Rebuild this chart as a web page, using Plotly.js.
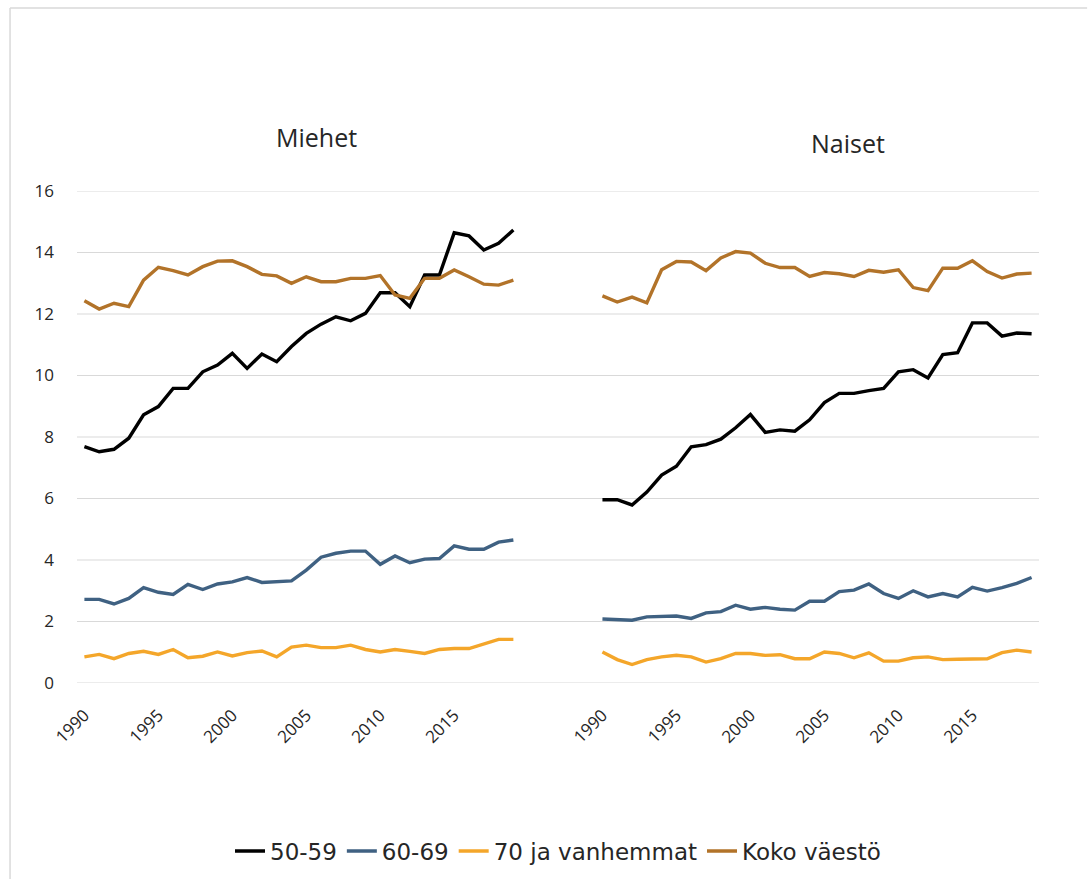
<!DOCTYPE html>
<html>
<head>
<meta charset="utf-8">
<script src="https://cdn.plot.ly/plotly-3.0.1.min.js"></script>
<style>html,body{margin:0;padding:0;background:#fff;}#chart{width:1091px;height:879px;}</style>
</head>
<body>
<div id="chart"></div>
<script>
// Years (same for both panels)
const years = [1990,1991,1992,1993,1994,1995,1996,1997,1998,1999,2000,2001,2002,2003,2004,2005,2006,2007,2008,2009,2010,2011,2012,2013,2014,2015,2016,2017,2018,2019];
const xTickVals = [1990,1995,2000,2005,2010,2015];
const yTickVals = [0,2,4,6,8,10,12,14,16];
const seriesNames = ["50-59","60-69","70 ja vanhemmat","Koko väestö"];
const panelTitles = ["Miehet","Naiset"];

// Miehet (men)
const men_50_59 = [7.69,7.52,7.60,7.96,8.72,8.99,9.58,9.58,10.12,10.34,10.72,10.23,10.70,10.45,10.94,11.37,11.67,11.91,11.78,12.02,12.69,12.69,12.24,13.27,13.27,14.64,14.54,14.08,14.30,14.73];
const men_60_69 = [2.72,2.72,2.57,2.75,3.10,2.95,2.88,3.21,3.04,3.22,3.29,3.43,3.27,3.29,3.32,3.67,4.09,4.22,4.29,4.29,3.86,4.13,3.91,4.03,4.05,4.46,4.35,4.35,4.58,4.65];
const men_70plus = [0.85,0.93,0.79,0.96,1.03,0.93,1.09,0.82,0.87,1.01,0.88,0.99,1.04,0.85,1.17,1.23,1.15,1.15,1.23,1.09,1.01,1.09,1.03,0.96,1.09,1.12,1.12,1.28,1.42,1.42];
const men_all = [12.43,12.16,12.35,12.24,13.10,13.52,13.41,13.27,13.54,13.72,13.73,13.54,13.29,13.24,13.00,13.21,13.05,13.05,13.16,13.16,13.25,12.62,12.51,13.16,13.16,13.43,13.21,12.97,12.94,13.10];

// Naiset (women)
const women_50_59 = [5.96,5.96,5.79,6.21,6.76,7.05,7.68,7.75,7.93,8.30,8.73,8.15,8.23,8.19,8.56,9.12,9.42,9.42,9.51,9.58,10.12,10.19,9.92,10.68,10.74,11.71,11.71,11.28,11.38,11.36];
const women_60_69 = [2.08,2.07,2.04,2.15,2.17,2.18,2.10,2.28,2.32,2.53,2.40,2.46,2.40,2.37,2.66,2.66,2.97,3.02,3.22,2.91,2.75,3.00,2.80,2.91,2.80,3.11,2.99,3.10,3.24,3.43];
const women_70plus = [1.01,0.76,0.60,0.76,0.85,0.90,0.85,0.68,0.79,0.96,0.96,0.90,0.92,0.79,0.79,1.01,0.96,0.82,0.98,0.71,0.71,0.82,0.85,0.76,0.77,0.79,0.79,0.99,1.07,1.01];
const women_all = [12.59,12.39,12.55,12.36,13.44,13.71,13.69,13.41,13.82,14.03,13.98,13.65,13.51,13.51,13.22,13.35,13.31,13.22,13.42,13.36,13.44,12.86,12.76,13.49,13.49,13.73,13.38,13.17,13.30,13.33];

const colors = ["#000000","#3f6182","#f4a62a","#b27329"];
const menData = [men_50_59, men_60_69, men_70plus, men_all];
const womenData = [women_50_59, women_60_69, women_70plus, women_all];

const traces = [];
seriesNames.forEach((name, i) => {
  traces.push({x: years, y: menData[i], xaxis: 'x', yaxis: 'y', type: 'scatter', mode: 'lines',
    name: name, legendgroup: name, showlegend: true,
    line: {color: colors[i], width: 3.4}, hoverinfo: 'x+y+name'});
});
seriesNames.forEach((name, i) => {
  traces.push({x: years, y: womenData[i], xaxis: 'x2', yaxis: 'y', type: 'scatter', mode: 'lines',
    name: name, legendgroup: name, showlegend: false,
    line: {color: colors[i], width: 3.4}, hoverinfo: 'x+y+name'});
});

const FONT = "'Open Sans', 'Noto Sans', sans-serif";
const gridShapes = yTickVals.map(v => ({
  type: 'line', xref: 'paper', yref: 'y', x0: 0, x1: 1, y0: v, y1: v,
  line: {color: '#d9d9d9', width: 1.2}, layer: 'below'
}));
// outer chart border (top and left edges)
const borderShapes = [
  {type: 'line', xref: 'paper', yref: 'paper', x0: -0.0696, x1: 1.05, y0: 1.372, y1: 1.372, line: {color: '#d9d9d9', width: 1.5}},
  {type: 'line', xref: 'paper', yref: 'paper', x0: -0.0696, x1: -0.0696, y0: 1.372, y1: -0.41, line: {color: '#d9d9d9', width: 1.5}}
];

const xCommon = {
  range: [1989.5, 2019.5], tickvals: xTickVals, tickangle: -45,
  showgrid: false, zeroline: false, showline: false, ticks: '',
  ticklabelstandoff: 18, automargin: false,
  tickfont: {family: FONT, size: 17, color: '#262626'}, fixedrange: true
};

const layout = {
  width: 1091, height: 879,
  margin: {l: 77, r: 52, t: 191, b: 196, autoexpand: false},
  paper_bgcolor: '#ffffff', plot_bgcolor: 'rgba(0,0,0,0)',
  font: {family: FONT, color: '#262626'},
  xaxis: Object.assign({}, xCommon, {domain: [0, 0.4613], anchor: 'y'}),
  xaxis2: Object.assign({}, xCommon, {domain: [0.5385, 1], anchor: 'y'}),
  yaxis: {
    range: [0, 16], tickvals: yTickVals, showgrid: false, zeroline: false, showline: false,
    ticks: '', ticklabelstandoff: 22, automargin: false,
    tickfont: {family: FONT, size: 17, color: '#262626'}, fixedrange: true
  },
  shapes: gridShapes.concat(borderShapes),
  annotations: [
    {text: panelTitles[0], xref: 'paper', yref: 'paper', x: 0.2494, y: 1.1098, xanchor: 'center', yanchor: 'middle',
     showarrow: false, font: {family: FONT, size: 25, color: '#262626'}},
    {text: panelTitles[1], xref: 'paper', yref: 'paper', x: 0.8011, y: 1.0976, xanchor: 'center', yanchor: 'middle',
     showarrow: false, font: {family: FONT, size: 25, color: '#262626'}}
  ],
  legend: {
    orientation: 'h', x: 0.5, xanchor: 'center', yref: 'container', y: 0.0318, yanchor: 'middle',
    font: {family: "'DejaVu Sans', 'Open Sans', sans-serif", size: 23, color: '#262626'}, itemwidth: 30, tracegroupgap: 0
  },
  showlegend: true
};

Plotly.newPlot('chart', traces, layout, {displayModeBar: false, staticPlot: true});
</script>
</body>
</html>
